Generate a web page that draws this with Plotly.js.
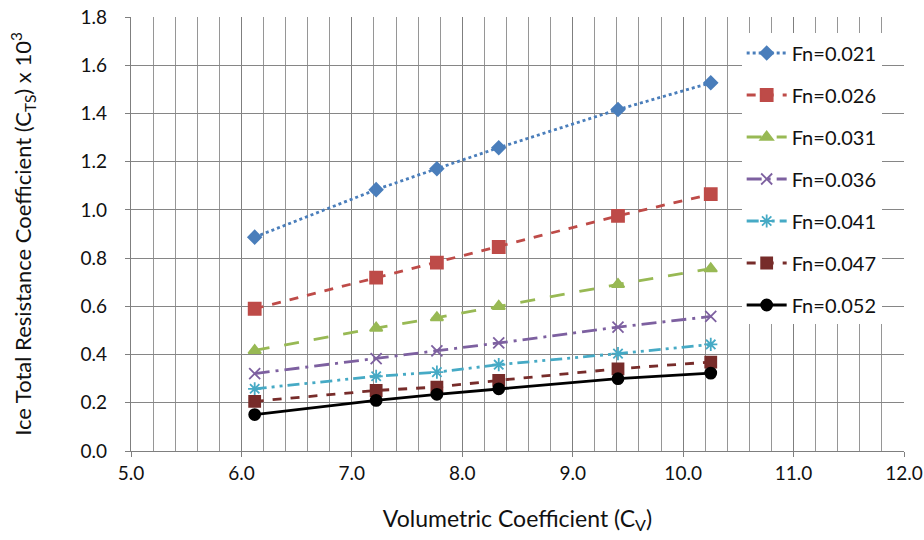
<!DOCTYPE html>
<html>
<head>
<meta charset="utf-8">
<script src="https://cdn.plot.ly/plotly-3.0.1.min.js"></script>
<style>html,body{margin:0;padding:0;background:#fff;}#chart{width:924px;height:540px;}</style>
</head>
<body>
<div id="chart"></div>
<script>
const cv = [6.12, 7.22, 7.77, 8.33, 9.41, 10.25];
const seriesNames = ["Fn=0.021", "Fn=0.026", "Fn=0.031", "Fn=0.036", "Fn=0.041", "Fn=0.047", "Fn=0.052"];
const fn021 = [0.887, 1.084, 1.171, 1.258, 1.416, 1.527];
const fn026 = [0.590, 0.719, 0.781, 0.846, 0.975, 1.065];
const fn031 = [0.417, 0.510, 0.553, 0.600, 0.691, 0.756];
const fn036 = [0.321, 0.383, 0.415, 0.448, 0.514, 0.558];
const fn041 = [0.258, 0.310, 0.327, 0.358, 0.404, 0.442];
const fn047 = [0.206, 0.251, 0.265, 0.293, 0.341, 0.369];
const fn052 = [0.151, 0.210, 0.235, 0.258, 0.300, 0.323];
const xTicks = [5, 6, 7, 8, 9, 10, 11, 12];
const yTicks = [0, 0.2, 0.4, 0.6, 0.8, 1.0, 1.2, 1.4, 1.6, 1.8];

const values = [fn021, fn026, fn031, fn036, fn041, fn047, fn052];
const colors = ["#4a7ebb", "#be4b48", "#98b954", "#7d60a0", "#46aac5", "#772c2a", "#000000"];
const dashes = ["dot", "dash", "longdash", "longdashdot", "12px,5px,3px,5px,3px,5px", "dash", "solid"];
const symbols = ["diamond", "square", "triangle-up", "x-thin-open", "asterisk-open", "square", "circle"];
const msizes = [10, 12, 11, 11, 11, 11, 11];

const traces = values.map((v, i) => ({
  x: cv, y: v, name: seriesNames[i], type: "scatter", mode: "lines+markers",
  legendgroup: "g" + i,
  line: {color: colors[i], width: 2.8, dash: dashes[i]},
  marker: {symbol: symbols[i], size: msizes[i], color: colors[i], line: {color: colors[i], width: 1.8}}
}));

const font = "Lato, 'Liberation Sans', sans-serif";
const layout = {
  width: 924, height: 540,
  margin: {l: 131, r: 20, t: 17, b: 89},
  paper_bgcolor: "#fff", plot_bgcolor: "#fff",
  font: {family: font, size: 19, color: "#111"},
  showlegend: true,
  legend: {x: 0.79, y: 0.962, xanchor: "left", yanchor: "top", bgcolor: "#fff",
           font: {family: font, size: 20, color: "#111"},
           traceorder: "grouped", tracegroupgap: 13, itemwidth: 40},
  xaxis: {
    range: [5, 12], tickvals: xTicks, tickformat: ".1f",
    showgrid: true, gridcolor: "#7f7f7f", gridwidth: 1,
    minor: {dtick: 0.2, showgrid: true, gridcolor: "#969696", gridwidth: 1},
    showline: true, linecolor: "#7f7f7f", linewidth: 1.2,
    ticks: "outside", ticklen: 5, tickcolor: "#7f7f7f",
    zeroline: false, mirror: false,
    title: {text: "Volumetric Coefficient (C<sub>V</sub>)", font: {size: 23}, standoff: 27}
  },
  yaxis: {
    range: [0, 1.8], tickvals: yTicks, tickformat: ".1f",
    showgrid: true, gridcolor: "#868686", gridwidth: 1,
    showline: true, linecolor: "#7f7f7f", linewidth: 1.2,
    ticks: "outside", ticklen: 5, tickcolor: "#7f7f7f", ticklabelstandoff: 14,
    zeroline: false,
    title: {text: "Ice Total Resistance Coefficient (C<sub>TS</sub>) x 10<sup>3</sup>", font: {size: 22}, standoff: 42}
  }
};

Plotly.newPlot("chart", traces, layout, {staticPlot: true, displayModeBar: false});
</script>
</body>
</html>
